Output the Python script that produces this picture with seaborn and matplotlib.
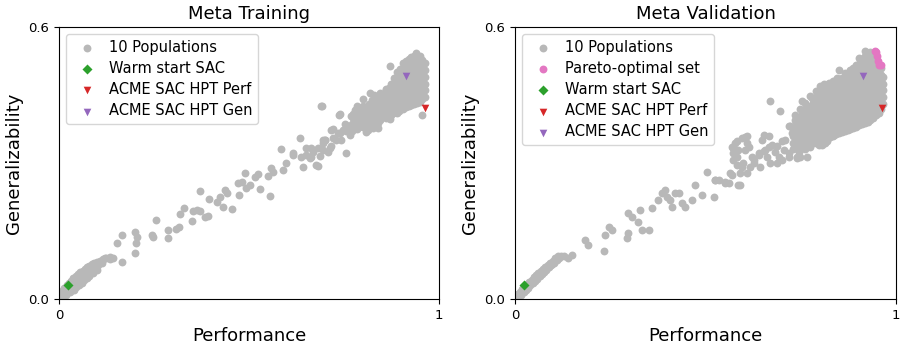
import matplotlib
matplotlib.use("Agg")
import matplotlib.pyplot as plt
import seaborn as sns
import pandas as pd

# ---------------- data ----------------
train_band = [(0.002,0.003),(0.006,0.008),(0.008,0.018),(0.012,0.010),(0.014,0.024),(0.018,0.016),
              (0.020,0.030),(0.024,0.020),(0.026,0.036),(0.030,0.026),(0.032,0.040),(0.036,0.030),
              (0.038,0.046),(0.042,0.034),(0.044,0.050),(0.048,0.040),(0.050,0.055),(0.054,0.044),
              (0.056,0.060),(0.060,0.048),(0.062,0.062),(0.066,0.052),(0.068,0.066),(0.072,0.056),
              (0.074,0.070),(0.078,0.060),(0.080,0.074),(0.084,0.065),(0.086,0.078),(0.090,0.068),
              (0.092,0.080),(0.096,0.072),(0.100,0.082),(0.104,0.075),(0.108,0.085),(0.112,0.080),
              (0.116,0.088),(0.120,0.090),(0.125,0.090),(0.134,0.093),(0.030,0.015),(0.045,0.026),
              (0.060,0.036),(0.075,0.046),(0.090,0.058),(0.100,0.064),(0.018,0.008),(0.040,0.020),
              (0.010,0.014),(0.022,0.025),(0.034,0.035),(0.046,0.045),(0.058,0.055),(0.070,0.062),
              (0.082,0.070),(0.094,0.077),(0.106,0.080),(0.052,0.032),(0.066,0.042),(0.080,0.052)]
train_mid = [(0.134,0.088),(0.143,0.091),(0.153,0.123),(0.167,0.141),(0.167,0.081),(0.199,0.101),
             (0.200,0.148),(0.202,0.123),(0.206,0.136),(0.244,0.141),(0.248,0.136),(0.255,0.174),
             (0.286,0.152),(0.287,0.134),(0.309,0.155),(0.316,0.160),(0.318,0.188),(0.329,0.200),
             (0.351,0.172),(0.353,0.195),(0.362,0.197),(0.371,0.195),(0.372,0.238),(0.383,0.182),
             (0.391,0.183),(0.395,0.220),(0.416,0.215),(0.423,0.226),(0.432,0.204),(0.438,0.241),
             (0.443,0.233),(0.456,0.198),(0.474,0.230),(0.472,0.255),(0.482,0.258),(0.489,0.277),
             (0.493,0.244),(0.504,0.252),(0.515,0.270),(0.524,0.275),(0.528,0.242),(0.550,0.272),
             (0.555,0.227),(0.557,0.289),(0.564,0.280),(0.585,0.331),(0.590,0.285),(0.597,0.301),
             (0.616,0.318),(0.634,0.355),(0.638,0.314),(0.642,0.292),(0.651,0.318),(0.662,0.333),
             (0.664,0.314),(0.669,0.325),(0.677,0.296),(0.682,0.334),(0.686,0.316),(0.691,0.425),
             (0.695,0.344),(0.699,0.351),(0.708,0.325),(0.717,0.373),(0.721,0.355),(0.737,0.406),
             (0.730,0.351),(0.739,0.366),(0.748,0.373),(0.756,0.322),(0.761,0.381),(0.765,0.362),
             (0.774,0.399),(0.778,0.417),(0.783,0.388),(0.791,0.395),(0.796,0.381),(0.805,0.417),
             (0.809,0.369),(0.818,0.417),(0.826,0.410),(0.835,0.439),(0.844,0.432),(0.862,0.461),
             (0.870,0.513),(0.879,0.410),(0.954,0.406),(0.690,0.425)]
train_extra = [(0.721,0.375),(0.739,0.407),(0.752,0.385),(0.774,0.407),(0.783,0.421),(0.800,0.396),
               (0.818,0.414),(0.826,0.377),(0.839,0.388),(0.848,0.429),(0.861,0.407),(0.870,0.396),
               (0.892,0.414),(0.901,0.421),(0.923,0.429),(0.699,0.351),(0.712,0.333),(0.695,0.329),
               (0.734,0.366),(0.756,0.370),(0.791,0.385),(0.682,0.294),(0.616,0.322),(0.651,0.333),
               (0.660,0.311),(0.695,0.351),(0.717,0.337),(0.743,0.351),(0.765,0.370),(0.769,0.403),
               (0.796,0.381),(0.813,0.373),(0.839,0.377),(0.839,0.447),(0.861,0.462),(0.896,0.414),
               (0.940,0.436),(0.783,0.425),(0.800,0.440),(0.818,0.455)]
train_cluster = [
    (0.770,0.370),(0.770,0.385),
    (0.785,0.375),(0.785,0.390),(0.785,0.405),
    (0.800,0.380),(0.800,0.395),(0.800,0.410),(0.800,0.425),
    (0.815,0.385),(0.815,0.400),(0.815,0.415),(0.815,0.430),
    (0.830,0.390),(0.830,0.405),(0.830,0.420),(0.830,0.435),(0.830,0.450),
    (0.845,0.395),(0.845,0.410),(0.845,0.425),(0.845,0.440),(0.845,0.455),
    (0.860,0.400),(0.860,0.415),(0.860,0.430),(0.860,0.445),(0.860,0.460),
    (0.875,0.405),(0.875,0.420),(0.875,0.435),(0.875,0.450),(0.875,0.465),(0.875,0.475),
    (0.890,0.410),(0.890,0.425),(0.890,0.440),(0.890,0.455),(0.890,0.470),(0.890,0.485),(0.890,0.500),
    (0.905,0.420),(0.905,0.435),(0.905,0.450),(0.905,0.465),(0.905,0.480),(0.905,0.495),(0.905,0.510),(0.905,0.520),
    (0.920,0.425),(0.920,0.440),(0.920,0.455),(0.920,0.470),(0.920,0.485),(0.920,0.500),(0.920,0.515),(0.920,0.530),
    (0.935,0.430),(0.935,0.445),(0.935,0.460),(0.935,0.475),(0.935,0.490),(0.935,0.505),(0.935,0.520),(0.935,0.535),(0.940,0.543),
    (0.950,0.435),(0.950,0.450),(0.950,0.465),(0.950,0.480),(0.950,0.495),(0.950,0.510),(0.950,0.525),(0.950,0.535),
    (0.963,0.445),(0.963,0.460),(0.963,0.475),(0.963,0.490),(0.963,0.505),(0.963,0.520)]
train_cluster_fill = [
    (0.7775,0.378),(0.7775,0.393),
    (0.7925,0.383),(0.7925,0.398),(0.7925,0.413),
    (0.8075,0.388),(0.8075,0.403),(0.8075,0.418),
    (0.8225,0.393),(0.8225,0.408),(0.8225,0.423),(0.8225,0.438),
    (0.8375,0.398),(0.8375,0.413),(0.8375,0.428),(0.8375,0.443),
    (0.8525,0.403),(0.8525,0.418),(0.8525,0.433),(0.8525,0.448),
    (0.8675,0.408),(0.8675,0.423),(0.8675,0.438),(0.8675,0.453),(0.8675,0.466),
    (0.8825,0.413),(0.8825,0.428),(0.8825,0.443),(0.8825,0.458),(0.8825,0.473),(0.8825,0.488),
    (0.8975,0.418),(0.8975,0.433),(0.8975,0.448),(0.8975,0.463),(0.8975,0.478),(0.8975,0.493),(0.8975,0.508),
    (0.9125,0.423),(0.9125,0.438),(0.9125,0.453),(0.9125,0.468),(0.9125,0.483),(0.9125,0.498),(0.9125,0.513),(0.9125,0.525),
    (0.9275,0.428),(0.9275,0.443),(0.9275,0.458),(0.9275,0.473),(0.9275,0.488),(0.9275,0.503),(0.9275,0.518),(0.9275,0.533),
    (0.9425,0.433),(0.9425,0.448),(0.9425,0.463),(0.9425,0.478),(0.9425,0.493),(0.9425,0.508),(0.9425,0.523),(0.9425,0.536),
    (0.9565,0.440),(0.9565,0.455),(0.9565,0.470),(0.9565,0.485),(0.9565,0.500),(0.9565,0.515),(0.9565,0.528)]

val_band = [(0.002,0.002),(0.005,0.008),(0.008,0.012),(0.010,0.005),(0.013,0.016),(0.016,0.010),
            (0.019,0.022),(0.022,0.015),(0.025,0.028),(0.028,0.020),(0.031,0.033),(0.034,0.025),
            (0.037,0.038),(0.040,0.030),(0.043,0.043),(0.046,0.035),(0.049,0.048),(0.052,0.040),
            (0.055,0.053),(0.058,0.045),(0.061,0.057),(0.064,0.050),(0.067,0.062),(0.070,0.055),
            (0.073,0.066),(0.076,0.060),(0.079,0.070),(0.082,0.065),(0.085,0.075),(0.088,0.070),
            (0.091,0.079),(0.094,0.075),(0.098,0.083),(0.102,0.080),(0.106,0.088),(0.110,0.086),
            (0.115,0.091),(0.120,0.094),(0.128,0.095),(0.012,0.009),(0.024,0.020),(0.036,0.031),
            (0.048,0.042),(0.060,0.052),(0.072,0.060),(0.084,0.069),(0.096,0.078)]
val_mid = [(0.104,0.090),(0.113,0.094),(0.139,0.090),(0.148,0.097),(0.183,0.130),(0.192,0.119),
           (0.233,0.105),(0.236,0.141),(0.245,0.160),(0.253,0.152),(0.293,0.134),(0.295,0.145),
           (0.297,0.189),(0.306,0.182),(0.322,0.171),(0.328,0.197),(0.332,0.152),(0.350,0.152),
           (0.358,0.200),(0.376,0.219),(0.385,0.233),(0.394,0.241),(0.398,0.226),(0.407,0.219),
           (0.411,0.204),(0.420,0.233),(0.429,0.233),(0.437,0.211),(0.446,0.204),(0.464,0.219),
           (0.472,0.252),(0.490,0.230),(0.521,0.226),(0.525,0.263),(0.534,0.263),(0.551,0.259),
           (0.560,0.255),(0.564,0.277),(0.569,0.336),(0.573,0.322),(0.578,0.344),(0.582,0.314),
           (0.586,0.329),(0.591,0.252),(0.595,0.292),(0.604,0.358),(0.604,0.329),(0.613,0.336),
           (0.608,0.277),(0.621,0.314),(0.626,0.300),(0.639,0.318),(0.648,0.351),(0.656,0.329),
           (0.665,0.336),(0.670,0.436),(0.683,0.325),(0.687,0.300),(0.692,0.314),(0.696,0.414),
           (0.700,0.307),(0.709,0.351),(0.718,0.322),(0.722,0.381),(0.727,0.366),(0.735,0.406),
           (0.740,0.314),(0.744,0.336),(0.748,0.358),(0.753,0.436),(0.757,0.381),(0.762,0.336),
           (0.770,0.366),(0.779,0.443),(0.788,0.351),(0.797,0.395),(0.801,0.461),(0.805,0.340),
           (0.814,0.344),(0.823,0.358),(0.832,0.366),(0.840,0.447),(0.849,0.506),(0.858,0.381),
           (0.867,0.384)]
val_tail = [(0.573,0.333),(0.582,0.348),(0.595,0.355),(0.608,0.359),(0.608,0.344),(0.573,0.307),
            (0.582,0.296),(0.599,0.300),(0.617,0.292),(0.591,0.278),(0.569,0.274),(0.551,0.256),
            (0.525,0.263),(0.503,0.281),(0.586,0.252),(0.626,0.307),(0.639,0.322),(0.652,0.326),
            (0.661,0.314),(0.670,0.300),(0.652,0.362),(0.665,0.359),(0.674,0.340),(0.687,0.337),
            (0.700,0.348),(0.705,0.329),(0.718,0.314),(0.740,0.311),(0.643,0.292),(0.748,0.314),
            (0.766,0.314),(0.797,0.340),(0.819,0.348),(0.836,0.362),(0.871,0.381),(0.897,0.396),
            (0.924,0.407),(0.941,0.418),(0.748,0.418),(0.762,0.432),(0.775,0.447),(0.790,0.458),
            (0.800,0.469),(0.812,0.473),(0.823,0.477),(0.845,0.488),(0.867,0.499),(0.897,0.513),
            (0.902,0.532),(0.919,0.546),(0.718,0.381),(0.735,0.395)]
val_cluster = [
    (0.730,0.330),(0.730,0.345),(0.730,0.360),(0.730,0.375),
    (0.745,0.325),(0.745,0.340),(0.745,0.355),(0.745,0.370),(0.745,0.385),(0.745,0.400),
    (0.760,0.330),(0.760,0.345),(0.760,0.360),(0.760,0.375),(0.760,0.390),(0.760,0.405),(0.760,0.420),
    (0.775,0.335),(0.775,0.350),(0.775,0.365),(0.775,0.380),(0.775,0.395),(0.775,0.410),(0.775,0.425),
    (0.790,0.345),(0.790,0.360),(0.790,0.375),(0.790,0.390),(0.790,0.405),(0.790,0.420),(0.790,0.435),(0.790,0.445),
    (0.805,0.350),(0.805,0.365),(0.805,0.380),(0.805,0.395),(0.805,0.410),(0.805,0.425),(0.805,0.440),(0.805,0.455),
    (0.820,0.355),(0.820,0.370),(0.820,0.385),(0.820,0.400),(0.820,0.415),(0.820,0.430),(0.820,0.445),(0.820,0.460),(0.820,0.470),
    (0.835,0.360),(0.835,0.375),(0.835,0.390),(0.835,0.405),(0.835,0.420),(0.835,0.435),(0.835,0.450),(0.835,0.465),(0.835,0.480),
    (0.850,0.365),(0.850,0.380),(0.850,0.395),(0.850,0.410),(0.850,0.425),(0.850,0.440),(0.850,0.455),(0.850,0.470),(0.850,0.485),
    (0.865,0.370),(0.865,0.385),(0.865,0.400),(0.865,0.415),(0.865,0.430),(0.865,0.445),(0.865,0.460),(0.865,0.475),(0.865,0.490),
    (0.880,0.375),(0.880,0.390),(0.880,0.405),(0.880,0.420),(0.880,0.435),(0.880,0.450),(0.880,0.465),(0.880,0.480),(0.880,0.495),(0.880,0.505),
    (0.895,0.380),(0.895,0.395),(0.895,0.410),(0.895,0.425),(0.895,0.440),(0.895,0.455),(0.895,0.470),(0.895,0.485),(0.895,0.500),(0.895,0.515),
    (0.910,0.385),(0.910,0.400),(0.910,0.415),(0.910,0.430),(0.910,0.445),(0.910,0.460),(0.910,0.475),(0.910,0.490),(0.910,0.505),(0.910,0.520),(0.910,0.530),
    (0.925,0.390),(0.925,0.405),(0.925,0.420),(0.925,0.435),(0.925,0.450),(0.925,0.465),(0.925,0.480),(0.925,0.495),(0.925,0.510),(0.925,0.525),(0.925,0.540),
    (0.940,0.400),(0.940,0.415),(0.940,0.430),(0.940,0.445),(0.940,0.460),(0.940,0.475),(0.940,0.490),(0.940,0.505),(0.940,0.520),(0.940,0.535),
    (0.955,0.410),(0.955,0.425),(0.955,0.440),(0.955,0.455),(0.955,0.470),(0.955,0.485),(0.955,0.500),
    (0.965,0.430),(0.965,0.445),(0.965,0.460),(0.965,0.475),(0.965,0.490)]
val_cluster_fill = [
    (0.7375,0.333),(0.7375,0.348),(0.7375,0.363),(0.7375,0.378),(0.7375,0.390),
    (0.7525,0.333),(0.7525,0.348),(0.7525,0.363),(0.7525,0.378),(0.7525,0.393),(0.7525,0.408),
    (0.7675,0.338),(0.7675,0.353),(0.7675,0.368),(0.7675,0.383),(0.7675,0.398),(0.7675,0.413),
    (0.7825,0.343),(0.7825,0.358),(0.7825,0.373),(0.7825,0.388),(0.7825,0.403),(0.7825,0.418),(0.7825,0.433),
    (0.7975,0.348),(0.7975,0.363),(0.7975,0.378),(0.7975,0.393),(0.7975,0.408),(0.7975,0.423),(0.7975,0.438),(0.7975,0.450),
    (0.8125,0.353),(0.8125,0.368),(0.8125,0.383),(0.8125,0.398),(0.8125,0.413),(0.8125,0.428),(0.8125,0.443),(0.8125,0.458),
    (0.8275,0.358),(0.8275,0.373),(0.8275,0.388),(0.8275,0.403),(0.8275,0.418),(0.8275,0.433),(0.8275,0.448),(0.8275,0.463),(0.8275,0.475),
    (0.8425,0.363),(0.8425,0.378),(0.8425,0.393),(0.8425,0.408),(0.8425,0.423),(0.8425,0.438),(0.8425,0.453),(0.8425,0.468),(0.8425,0.483),
    (0.8575,0.368),(0.8575,0.383),(0.8575,0.398),(0.8575,0.413),(0.8575,0.428),(0.8575,0.443),(0.8575,0.458),(0.8575,0.473),(0.8575,0.488),
    (0.8725,0.373),(0.8725,0.388),(0.8725,0.403),(0.8725,0.418),(0.8725,0.433),(0.8725,0.448),(0.8725,0.463),(0.8725,0.478),(0.8725,0.493),
    (0.8875,0.378),(0.8875,0.393),(0.8875,0.408),(0.8875,0.423),(0.8875,0.438),(0.8875,0.453),(0.8875,0.468),(0.8875,0.483),(0.8875,0.498),(0.8875,0.510),
    (0.9025,0.383),(0.9025,0.398),(0.9025,0.413),(0.9025,0.428),(0.9025,0.443),(0.9025,0.458),(0.9025,0.473),(0.9025,0.488),(0.9025,0.503),(0.9025,0.518),
    (0.9175,0.388),(0.9175,0.403),(0.9175,0.418),(0.9175,0.433),(0.9175,0.448),(0.9175,0.463),(0.9175,0.478),(0.9175,0.493),(0.9175,0.508),(0.9175,0.523),(0.9175,0.535),
    (0.9325,0.395),(0.9325,0.410),(0.9325,0.425),(0.9325,0.440),(0.9325,0.455),(0.9325,0.470),(0.9325,0.485),(0.9325,0.500),(0.9325,0.515),(0.9325,0.530),(0.9325,0.545),
    (0.9475,0.405),(0.9475,0.420),(0.9475,0.435),(0.9475,0.450),(0.9475,0.465),(0.9475,0.480),(0.9475,0.495),(0.9475,0.510),(0.9475,0.525),
    (0.9600,0.420),(0.9600,0.435),(0.9600,0.450),(0.9600,0.465),(0.9600,0.480),(0.9600,0.495),(0.9600,0.510)]
val_pareto = [(0.944,0.546),(0.947,0.544),(0.950,0.535),(0.953,0.524),(0.956,0.517),(0.961,0.515)]

warm_start = (0.024, 0.031)
hpt_perf = (0.962, 0.422)
hpt_gen = (0.912, 0.492)

titles = ["Meta Training", "Meta Validation"]
GREY = "#b8b8b8"

# ---------------- plotting ----------------
fig = plt.figure(figsize=(9.07, 3.49), dpi=100)
ax1 = fig.add_axes([0.065, 0.143, 0.419, 0.780])
ax2 = fig.add_axes([0.568, 0.143, 0.420, 0.780])


def draw(ax, pts, title, pareto=None):
    df = pd.DataFrame(pts, columns=["Performance", "Generalizability"])
    sns.scatterplot(data=df, x="Performance", y="Generalizability", ax=ax, color=GREY,
                    s=32, linewidth=0, label="10 Populations", zorder=2)
    if pareto is not None:
        pdf = pd.DataFrame(pareto, columns=["Performance", "Generalizability"])
        sns.scatterplot(data=pdf, x="Performance", y="Generalizability", ax=ax,
                        color="tab:pink", s=32, linewidth=0, label="Pareto-optimal set", zorder=3)
    sns.scatterplot(x=[warm_start[0]], y=[warm_start[1]], ax=ax, color="tab:green", marker="D",
                    s=26, linewidth=0, label="Warm start SAC", zorder=4)
    sns.scatterplot(x=[hpt_perf[0]], y=[hpt_perf[1]], ax=ax, color="tab:red", marker="v",
                    s=30, linewidth=0, label="ACME SAC HPT Perf", zorder=4)
    sns.scatterplot(x=[hpt_gen[0]], y=[hpt_gen[1]], ax=ax, color="tab:purple", marker="v",
                    s=30, linewidth=0, label="ACME SAC HPT Gen", zorder=4)
    ax.set_xlim(0, 1)
    ax.set_ylim(0, 0.6)
    ax.set_xticks([0, 1])
    ax.set_xticklabels(["0", "1"])
    ax.set_yticks([0.0, 0.6])
    ax.set_yticklabels(["0.0", "0.6"])
    ax.tick_params(labelsize=9.5)
    ax.set_title(title, fontsize=13)
    ax.set_xlabel("Performance", fontsize=13)
    ax.set_ylabel("Generalizability", fontsize=13)
    ax.legend(loc="upper left", fontsize=10.5, frameon=True, handletextpad=0.5,
              labelspacing=0.42)


draw(ax1, train_band + train_mid + train_extra + train_cluster + train_cluster_fill, titles[0])
draw(ax2, val_band + val_mid + val_tail + val_cluster + val_cluster_fill, titles[1], pareto=val_pareto)

fig.savefig("out.png", dpi=100)
